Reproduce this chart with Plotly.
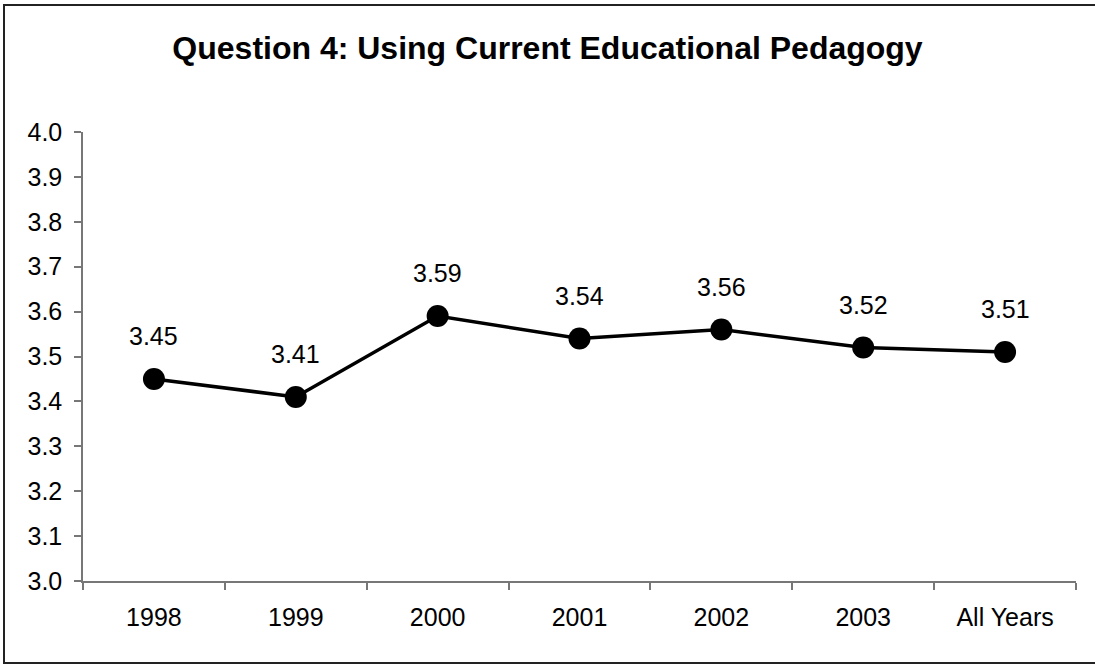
import plotly.graph_objects as go

categories = ["1998", "1999", "2000", "2001", "2002", "2003", "All Years"]
values = [3.45, 3.41, 3.59, 3.54, 3.56, 3.52, 3.51]
y_ticks = [3.0, 3.1, 3.2, 3.3, 3.4, 3.5, 3.6, 3.7, 3.8, 3.9, 4.0]
title_text = "Question 4: Using Current Educational Pedagogy"

FONT = "Liberation Sans, Arial, sans-serif"

fig = go.Figure()
fig.add_trace(go.Scatter(
    x=categories, y=values, mode="lines+markers",
    line=dict(color="black", width=3.5),
    marker=dict(color="black", size=22),
    cliponaxis=False, showlegend=False, hoverinfo="skip",
))

for i, v in enumerate(values):
    fig.add_annotation(x=i, y=v, xref="x", yref="y", text=f"{v:.2f}",
                       showarrow=False, yshift=43,
                       font=dict(family=FONT, size=25, color="black"))

# outer chart border
fig.add_shape(type="rect", xref="paper", yref="paper",
              x0=(4 - 83) / 993, x1=(1110 - 83) / 993,
              y0=(581 - 663) / 449, y1=(581 - 5) / 449,
              line=dict(color="#222222", width=2), layer="below")

fig.update_layout(
    width=1095, height=665,
    margin=dict(l=83, r=19, t=132, b=84, autoexpand=False),
    paper_bgcolor="white", plot_bgcolor="white",
    font=dict(family=FONT, size=25, color="black"),
    title=dict(text=title_text, x=0.5, xanchor="center", xref="container",
               y=1 - 48 / 665, yanchor="middle", yref="container",
               font=dict(family=FONT, size=32, color="black", weight="bold")),
    xaxis=dict(
        type="category", range=[-0.5, len(categories) - 0.5],
        showline=True, linecolor="#777777", linewidth=1.5,
        ticks="outside", tickson="boundaries", ticklen=7, tickcolor="#777777",
        tickwidth=1.5, showgrid=False, zeroline=False,
        tickfont=dict(family=FONT, size=25, color="black"),
        ticklabelstandoff=13, fixedrange=True,
    ),
    yaxis=dict(
        range=[3.0, 4.0], tickvals=y_ticks,
        ticktext=[f"{t:.1f}" for t in y_ticks],
        showline=True, linecolor="#777777", linewidth=1.5,
        ticks="outside", ticklen=7, tickcolor="#777777", tickwidth=1.5,
        showgrid=False, zeroline=False,
        tickfont=dict(family=FONT, size=25, color="black"),
        ticklabelstandoff=7, fixedrange=True,
    ),
)

fig.write_html("out.html", config={"displayModeBar": False},
               post_script="document.body.style.margin='0';")
